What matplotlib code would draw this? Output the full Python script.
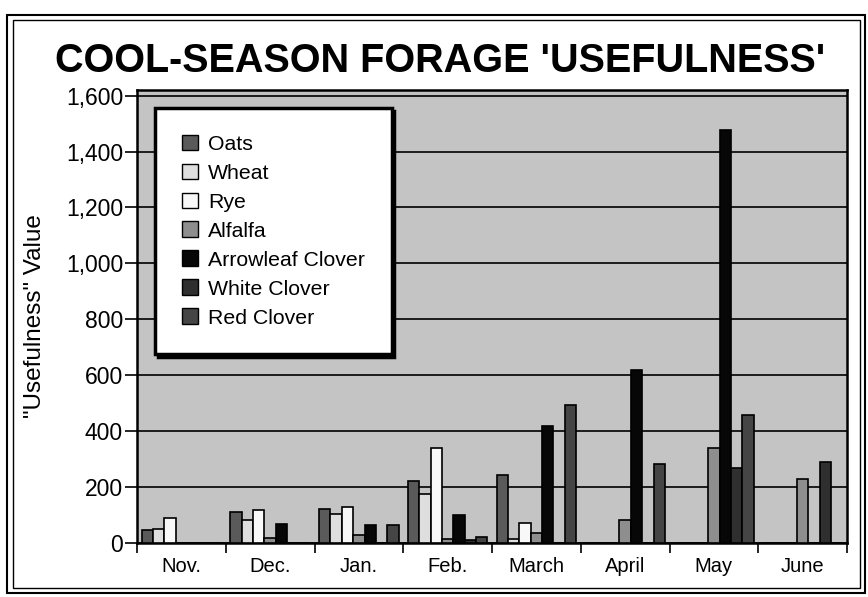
import matplotlib
matplotlib.use('Agg')
import matplotlib.pyplot as plt
import numpy as np
from matplotlib.patches import Patch, Rectangle
from matplotlib.ticker import FuncFormatter, FixedLocator, NullFormatter

plt.rcParams['font.family'] = ['Liberation Sans', 'DejaVu Sans']

# ---- data ----
months = ["Nov.", "Dec.", "Jan.", "Feb.", "March", "April", "May", "June"]
oats = [48, 110, 123, 223, 242, 0, 0, 0]
wheat = [51, 84, 105, 174, 15, 0, 0, 0]
rye = [89, 119, 128, 340, 70, 0, 0, 0]
alfalfa = [0, 18, 30, 15, 34, 82, 338, 229]
arrowleaf_clover = [0, 67, 64, 101, 420, 620, 1477, 0]
white_clover = [0, 0, 0, 12, 0, 0, 268, 290]
red_clover = [0, 0, 65, 23, 492, 284, 456, 0]
series_names = ["Oats", "Wheat", "Rye", "Alfalfa", "Arrowleaf Clover",
                "White Clover", "Red Clover"]
y_ticks = [0, 200, 400, 600, 800, 1000, 1200, 1400, 1600]
title = "COOL-SEASON FORAGE 'USEFULNESS'"
y_label = '"Usefulness" Value'

# ---- style ----
series_values = [oats, wheat, rye, alfalfa, arrowleaf_clover, white_clover, red_clover]
colors = ['#5a5a5a', '#dedede', '#f8f8f8', '#8e8e8e', '#070707', '#2f2f2f', '#454545']
bg = '#c4c4c4'

W, H = 868, 597
fig = plt.figure(figsize=(W / 100, H / 100), dpi=100)
fig.patch.set_facecolor('white')

left, right, bottom, top = 137, 847, 543, 90
ax = fig.add_axes([left / W, 1 - bottom / H, (right - left) / W, (bottom - top) / H])
ax.set_facecolor(bg)

n_groups = len(months)
n_series = len(series_names)
bw = 0.128
centers = np.arange(n_groups) + 0.5
for j, (vals, col, name) in enumerate(zip(series_values, colors, series_names)):
    ax.bar(centers + (j - (n_series - 1) / 2) * bw, vals, width=bw, color=col,
           edgecolor='black', linewidth=1.2, zorder=3, label=name)

ax.set_xlim(0, n_groups)
ax.set_ylim(0, 1620)

# horizontal grid lines
ax.set_yticks(y_ticks)
ax.yaxis.grid(True, color='black', linewidth=1.2, zorder=1)
ax.set_axisbelow(True)
ax.yaxis.set_major_formatter(FuncFormatter(lambda v, p: f"{int(v):,}"))
ax.tick_params(axis='y', direction='out', length=9, width=1.2, labelsize=16.5, pad=1)

# x ticks at group boundaries, labels at group centres
ax.xaxis.set_major_locator(FixedLocator(np.arange(n_groups + 1)))
ax.xaxis.set_major_formatter(NullFormatter())
ax.xaxis.set_minor_locator(FixedLocator(centers))
ax.set_xticklabels(months, minor=True)
ax.tick_params(axis='x', which='major', direction='out', length=7, width=1.2)
ax.tick_params(axis='x', which='minor', length=0, labelsize=14.5, pad=10)

for s in ax.spines.values():
    s.set_linewidth(1.8)
    s.set_color('black')

ax.set_ylabel(y_label, fontsize=17.5, labelpad=10)
ax.yaxis.set_label_coords((46 - left) / (right - left), (bottom - 316) / (bottom - top))

# legend
handles = [Patch(facecolor=c, edgecolor='black', linewidth=1.0) for c in colors]
leg = ax.legend(handles, series_names, loc='upper left',
                bbox_to_anchor=((155 - left) / (right - left), (bottom - 108) / (bottom - top)),
                fontsize=15.3, frameon=True, fancybox=False,
                shadow={'color': 'black', 'alpha': 1},
                handlelength=0.75, handleheight=0.75, handletextpad=0.5,
                labelspacing=0.46, borderpad=1.25, borderaxespad=0)
leg.get_frame().set_edgecolor('black')
leg.get_frame().set_linewidth(2.5)
leg.get_frame().set_facecolor('white')
leg.set_zorder(5)

# title
fig.text(440 / W, 1 - 72 / H, title, ha='center', va='baseline',
         fontsize=28.5, fontweight='bold')

# double outer frame
fig.add_artist(Rectangle((7 / W, 1 - 593 / H), (865 - 7) / W, (593 - 15) / H,
                         transform=fig.transFigure, fill=False, lw=1.5, ec='black'))
fig.add_artist(Rectangle((13 / W, 1 - 588 / H), (860 - 13) / W, (588 - 20) / H,
                         transform=fig.transFigure, fill=False, lw=1.0, ec='black'))

fig.savefig('out.png', dpi=100)
